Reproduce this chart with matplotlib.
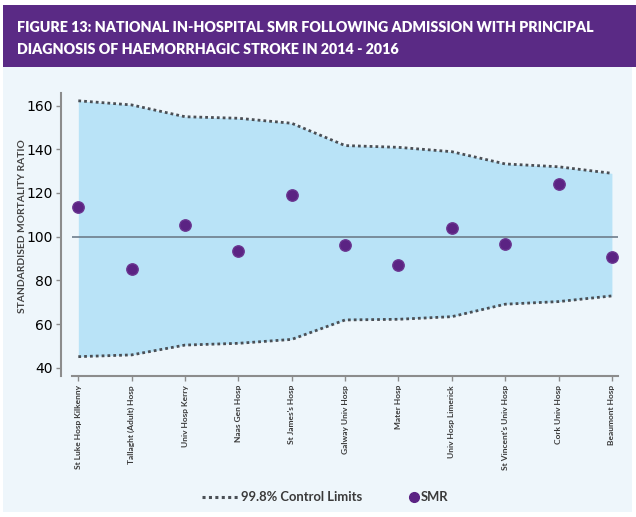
import matplotlib
matplotlib.use("Agg")
import matplotlib.pyplot as plt
from matplotlib.lines import Line2D
from matplotlib.patches import Rectangle

hospitals = ["St Luke Hosp Kilkenny", "Tallaght (Adult) Hosp", "Univ Hosp Kerry",
             "Naas Gen Hosp", "St James's Hosp", "Galway Univ Hosp", "Mater Hosp",
             "Univ Hosp Limerick", "St Vincent's Univ Hosp", "Cork Univ Hosp",
             "Beaumont Hosp"]
smr = [113.4, 85.2, 105.5, 93.3, 118.9, 96.2, 86.9, 103.8, 96.5, 124.1, 90.8]
upper = [162.2, 160.3, 154.9, 154.2, 151.9, 141.7, 140.9, 138.9, 133.3, 132.0, 129.0]
lower = [45.1, 45.9, 50.4, 51.2, 53.0, 61.9, 62.2, 63.4, 69.1, 70.3, 72.9]
yticks = [40, 60, 80, 100, 120, 140, 160]

W, H = 636, 517
fig = plt.figure(figsize=(W / 100, H / 100), dpi=100)
fig.patch.set_facecolor("white")

def fx(px):
    return px / W

def fy(py):
    return 1 - py / H

# panel background and banner
fig.add_artist(Rectangle((fx(3), fy(512)), 629 / W, (512 - 66) / H,
                         transform=fig.transFigure, facecolor="#eef6fb",
                         edgecolor="none", zorder=0))
fig.add_artist(Rectangle((fx(3), fy(67)), 633 / W, 62 / H,
                         transform=fig.transFigure, facecolor="#5a2a85",
                         edgecolor="none", zorder=0))
fig.text(fx(17), fy(28),
         "FIGURE 13: NATIONAL IN-HOSPITAL SMR FOLLOWING ADMISSION WITH PRINCIPAL",
         color="white", fontsize=10.3, fontweight="heavy", family="Lato",
         va="center", ha="left")
fig.text(fx(17), fy(49),
         "DIAGNOSIS OF HAEMORRHAGIC STROKE IN 2014 - 2016",
         color="white", fontsize=10.3, fontweight="heavy", family="Lato",
         va="center", ha="left")

left, right, top, bottom = 71.7, 618.3, 93, 376
ax = fig.add_axes([fx(left), fy(bottom), (right - left) / W, (bottom - top) / H])
ax.set_facecolor("none")

dot_color = "#4a4f55"
x = list(range(len(hospitals)))
ax.fill_between(x, lower, upper, color="#b9e3f7", linewidth=0, zorder=1)
ax.plot(x, upper, linestyle=(0, (1, 1.1)), color=dot_color, linewidth=2, zorder=2)
ax.plot(x, lower, linestyle=(0, (1, 1.1)), color=dot_color, linewidth=2, zorder=2)
ax.axhline(100, color="#6e7d8c", linewidth=1.2, zorder=2)
ax.plot(x, smr, linestyle="none", marker="o", markersize=8.2,
        color="#5b2383", markeredgecolor="#6a3590", zorder=3)

def to_v(y):
    return 100 + (236.7 - y) / 2.185

ax.set_ylim(to_v(bottom), to_v(top))
ax.set_xlim(-0.124, 10.12)
ax.set_yticks(yticks)
ax.set_xticks(x)
ax.set_xticklabels(hospitals, rotation=90, fontsize=6.0, color="#3a3a3a",
                   family="Lato", fontweight="bold")
ax.set_yticklabels([str(v) for v in yticks], fontsize=6.3, color="#6a6a6a",
                   family="Lato", fontweight="bold")

for s in ["top", "right"]:
    ax.spines[s].set_visible(False)
ax.spines["left"].set_position(("outward", 7.5))
for s in ["left", "bottom"]:
    ax.spines[s].set_color("#8c8c8c")
    ax.spines[s].set_linewidth(1.5)
ax.tick_params(axis="both", direction="out", length=3.5, width=1, color="#8c8c8c")
ax.tick_params(axis="x", pad=3)
ax.tick_params(axis="y", pad=2.5)

fig.text(fx(23), fy(226), "STANDARDISED MORTALITY RATIO", rotation=90,
         fontsize=7.4, color="#444444", fontweight="bold", family="Lato",
         va="center", ha="center")

# legend
ly = fy(497)
fig.add_artist(Line2D([fx(202), fx(239)], [ly, ly], transform=fig.transFigure,
                      linestyle=(0, (1, 1.1)), color=dot_color, linewidth=2.2))
fig.text(fx(241), ly, "99.8% Control Limits", fontsize=9.4, color="#3a3a3a",
         family="Lato", fontweight="bold", va="center", ha="left")
fig.add_artist(Line2D([fx(414)], [ly], transform=fig.transFigure, linestyle="none",
                      marker="o", markersize=7, color="#5b2383"))
fig.text(fx(421), ly, "SMR", fontsize=9.4, color="#3a3a3a",
         family="Lato", fontweight="bold", va="center", ha="left")

fig.savefig("out.png", dpi=100, facecolor=fig.get_facecolor())
